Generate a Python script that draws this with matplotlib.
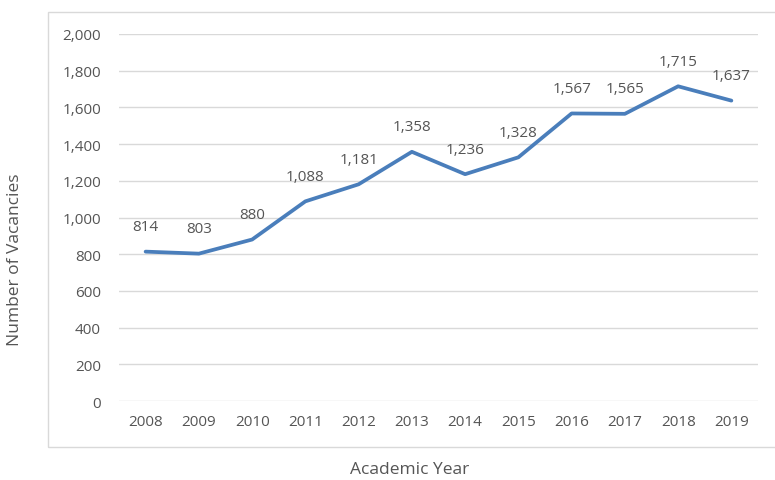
import matplotlib
matplotlib.use("Agg")
import matplotlib.pyplot as plt
from matplotlib.patches import Rectangle
from matplotlib.ticker import FuncFormatter

years = ["2008", "2009", "2010", "2011", "2012", "2013",
         "2014", "2015", "2016", "2017", "2018", "2019"]
vacancies = [814, 803, 880, 1088, 1181, 1358, 1236, 1328, 1567, 1565, 1715, 1637]
y_ticks = [0, 200, 400, 600, 800, 1000, 1200, 1400, 1600, 1800, 2000]

LINE_C = "#4A7EBB"
TEXT_C = "#555555"
GRID_C = "#D9D9D9"

plt.rcParams["font.family"] = ["Open Sans", "DejaVu Sans"]

fig = plt.figure(figsize=(7.75, 4.81), dpi=100)
ax = fig.add_axes([119 / 775, 1 - 402 / 481, (758 - 119) / 775, (402 - 35) / 481])

# outer chart border (Excel style)
fig.patches.append(Rectangle((48 / 775, 1 - 448 / 481), 1.0, (448 - 13) / 481,
                             transform=fig.transFigure, fill=False,
                             edgecolor="#D9D9D9", lw=1.0, zorder=0))

x = list(range(len(years)))
ax.plot(x, vacancies, color=LINE_C, lw=2.7, solid_joinstyle="round",
        solid_capstyle="round", zorder=3)
for xi, v in zip(x, vacancies):
    ax.annotate(f"{v:,}", (xi, v), xytext=(0, 18), textcoords="offset points",
                ha="center", va="center", fontsize=11, color=TEXT_C)

ax.set_xlim(-0.5, len(years) - 0.5)
ax.set_ylim(0, 2000)
ax.set_yticks(y_ticks)
ax.yaxis.set_major_formatter(FuncFormatter(lambda v, p: f"{int(v):,}"))
ax.set_xticks(x)
ax.set_xticklabels(years)
ax.grid(axis="y", color=GRID_C, lw=1.0)
ax.set_axisbelow(True)
for s in ax.spines.values():
    s.set_visible(False)
ax.tick_params(length=0, labelsize=11, labelcolor=TEXT_C)
ax.tick_params(axis="y", pad=13)
ax.tick_params(axis="x", pad=9)

fig.text(15 / 775, 1 - 260 / 481, "Number of Vacancies", rotation=90,
         ha="center", va="center", fontsize=12.5, color=TEXT_C)
fig.text(410 / 775, 1 - 470 / 481, "Academic Year",
         ha="center", va="center", fontsize=12.5, color=TEXT_C)

fig.savefig("out.png", dpi=100)
